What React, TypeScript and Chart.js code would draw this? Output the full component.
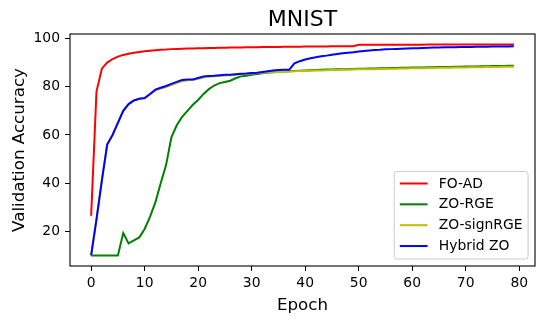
import React, { useEffect, useRef } from "react";
import { Chart, registerables } from "chart.js";

Chart.register(...registerables);

const EPOCHS = [
  0, 1, 2, 3, 4, 5, 6, 7, 8, 9, 10, 11, 12, 13, 14, 15, 16, 17, 18, 19,
  20, 21, 22, 23, 24, 25, 26, 27, 28, 29, 30, 31, 32, 33, 34, 35, 36, 37, 38, 39,
  40, 41, 42, 43, 44, 45, 46, 47, 48, 49, 50, 51, 52, 53, 54, 55, 56, 57, 58, 59,
  60, 61, 62, 63, 64, 65, 66, 67, 68, 69, 70, 71, 72, 73, 74, 75, 76, 77, 78, 79,
];

const FO_AD = [
  26.5, 78, 87.5, 90, 91.5, 92.5, 93.2, 93.7, 94.1, 94.4,
  94.7, 94.9, 95.1, 95.3, 95.4, 95.6, 95.7, 95.8, 95.9, 95.9,
  96.0, 96.0, 96.1, 96.1, 96.2, 96.2, 96.3, 96.3, 96.3, 96.4,
  96.4, 96.4, 96.5, 96.5, 96.5, 96.5, 96.6, 96.6, 96.6, 96.6,
  96.7, 96.7, 96.7, 96.7, 96.7, 96.8, 96.8, 96.8, 96.8, 96.8,
  97.4, 97.4, 97.4, 97.4, 97.4, 97.4, 97.4, 97.4, 97.4, 97.4,
  97.4, 97.4, 97.4, 97.5, 97.5, 97.5, 97.5, 97.5, 97.5, 97.5,
  97.5, 97.5, 97.5, 97.5, 97.5, 97.5, 97.5, 97.5, 97.5, 97.5,
];

const ZO_RGE = [
  10, 10, 10, 10, 10, 10, 19.3, 15, 16.3, 17.5,
  21, 26, 32, 40, 47.5, 59, 64, 67.5, 70, 72.5,
  74.5, 77, 79, 80.5, 81.5, 82, 82.5, 83.5, 84.3, 84.6,
  85, 85.3, 85.6, 85.8, 86, 86.2, 86.3, 86.4, 86.5, 86.6,
  86.7, 86.8, 86.9, 87, 87.1, 87.1, 87.2, 87.3, 87.3, 87.4,
  87.5, 87.5, 87.6, 87.6, 87.7, 87.7, 87.8, 87.8, 87.9, 87.9,
  88, 88, 88, 88.1, 88.1, 88.2, 88.2, 88.2, 88.3, 88.3,
  88.4, 88.4, 88.4, 88.5, 88.5, 88.6, 88.6, 88.6, 88.7, 88.7,
];

const ZO_SIGNRGE = [
  10, 25, 41, 56, 60, 65, 70, 72.8, 74.3, 75,
  75.2, 76.8, 78.5, 79.2, 79.9, 80.7, 81.5, 82.3, 82.7, 82.8,
  83.3, 83.8, 84.1, 84.3, 84.5, 84.7, 84.8, 85, 85.2, 85.4,
  85.5, 85.7, 85.8, 85.9, 86, 86.1, 86.2, 86.3, 86.4, 86.5,
  86.5, 86.6, 86.7, 86.7, 86.8, 86.9, 86.9, 87, 87, 87.1,
  87.2, 87.2, 87.3, 87.3, 87.4, 87.4, 87.5, 87.5, 87.6, 87.6,
  87.7, 87.7, 87.7, 87.8, 87.8, 87.9, 87.9, 87.9, 88, 88,
  88, 88.1, 88.1, 88.1, 88.2, 88.2, 88.2, 88.3, 88.3, 88.3,
];

const HYBRID_ZO = [
  10, 25, 41, 56, 60, 65, 70, 72.8, 74.3, 75,
  75.3, 77, 78.8, 79.6, 80.3, 81.2, 82, 82.8, 83, 83,
  83.6, 84.2, 84.5, 84.6, 84.8, 85, 85, 85.2, 85.4, 85.5,
  85.7, 85.8, 86.1, 86.4, 86.7, 86.9, 87, 87, 89.7, 90.6,
  91.3, 91.8, 92.2, 92.6, 92.9, 93.3, 93.6, 93.9, 94.1, 94.3,
  94.6, 94.8, 95, 95.2, 95.3, 95.5, 95.6, 95.7, 95.8, 95.9,
  96, 96, 96.1, 96.2, 96.3, 96.3, 96.4, 96.4, 96.4, 96.5,
  96.5, 96.5, 96.6, 96.6, 96.6, 96.7, 96.7, 96.7, 96.7, 96.8,
];

const SERIES_LABELS = ["FO-AD", "ZO-RGE", "ZO-signRGE", "Hybrid ZO"];
const SERIES_COLORS = ["#ff0000", "#008000", "#bfbf00", "#0000ff"];
const X_TICKS = [0, 10, 20, 30, 40, 50, 60, 70, 80];
const Y_TICKS = [20, 40, 60, 80, 100];
const TITLE = "MNIST";
const X_LABEL = "Epoch";
const Y_LABEL = "Validation Accuracy";

const FONT = "'DejaVu Sans', sans-serif";

const decorPlugin = {
  id: "decor",
  afterDatasetsDraw(chart: any) {
    const { ctx, chartArea } = chart;
    const { left, right, top, bottom } = chartArea;
    ctx.save();
    // frame
    ctx.strokeStyle = "#000000";
    ctx.lineWidth = 1.1;
    ctx.strokeRect(left, top, right - left, bottom - top);
    // title
    ctx.fillStyle = "#000000";
    ctx.textAlign = "center";
    ctx.textBaseline = "alphabetic";
    ctx.font = `22px ${FONT}`;
    ctx.fillText(TITLE, (left + right) / 2, top - 8);
    // x label
    ctx.font = `16.7px ${FONT}`;
    ctx.fillText(X_LABEL, (left + right) / 2, 310);
    // y label
    ctx.save();
    ctx.translate(20, (top + bottom) / 2);
    ctx.rotate(-Math.PI / 2);
    ctx.textBaseline = "middle";
    ctx.fillText(Y_LABEL, 0, 0);
    ctx.restore();

    // legend
    const fs = 13.9;
    ctx.font = `${fs}px ${FONT}`;
    const labels = chart.data.datasets.map((d: any) => d.label);
    const maxW = Math.max(...labels.map((l: string) => ctx.measureText(l).width));
    const bp = 0.4 * fs;
    const hl = 2 * fs;
    const htp = 0.8 * fs;
    const ls = 0.5 * fs;
    const rowH = fs;
    const w = 2 * bp + hl + htp + maxW;
    const h = 2 * bp + labels.length * rowH + (labels.length - 1) * ls;
    const x1 = right - 0.5 * fs;
    const y1 = bottom - 0.5 * fs;
    const x0 = x1 - w;
    const y0 = y1 - h;
    const r = 0.2 * fs;
    ctx.beginPath();
    ctx.moveTo(x0 + r, y0);
    ctx.lineTo(x1 - r, y0);
    ctx.arcTo(x1, y0, x1, y0 + r, r);
    ctx.lineTo(x1, y1 - r);
    ctx.arcTo(x1, y1, x1 - r, y1, r);
    ctx.lineTo(x0 + r, y1);
    ctx.arcTo(x0, y1, x0, y1 - r, r);
    ctx.lineTo(x0, y0 + r);
    ctx.arcTo(x0, y0, x0 + r, y0, r);
    ctx.closePath();
    ctx.fillStyle = "rgba(255,255,255,0.8)";
    ctx.fill();
    ctx.strokeStyle = "#cccccc";
    ctx.lineWidth = 1;
    ctx.stroke();
    chart.data.datasets.forEach((d: any, i: number) => {
      const cy = y0 + bp + rowH / 2 + i * (rowH + ls) - 0.5;
      ctx.strokeStyle = d.borderColor;
      ctx.lineWidth = 2;
      ctx.beginPath();
      ctx.moveTo(x0 + bp, cy);
      ctx.lineTo(x0 + bp + hl, cy);
      ctx.stroke();
      ctx.fillStyle = "#000000";
      ctx.textAlign = "left";
      ctx.textBaseline = "middle";
      ctx.fillText(d.label, x0 + bp + hl + htp, cy + 0.5);
    });
    ctx.restore();
  },
};

export default function App() {
  const ref = useRef<HTMLCanvasElement>(null);
  useEffect(() => {
    if (!ref.current) return;
    const seriesValues = [FO_AD, ZO_RGE, ZO_SIGNRGE, HYBRID_ZO];
    const chart = new Chart(ref.current, {
      type: "line",
      data: {
        datasets: seriesValues.map((vals, i) => ({
          label: SERIES_LABELS[i],
          data: vals.map((v, j) => ({ x: EPOCHS[j], y: v })),
          borderColor: SERIES_COLORS[i],
          backgroundColor: SERIES_COLORS[i],
          borderWidth: 2,
          pointRadius: 0,
          tension: 0,
          fill: false,
          order: seriesValues.length - i,
        })),
      },
      options: {
        animation: false,
        responsive: false,
        devicePixelRatio: 1,
        layout: { padding: { left: 0, right: 9, top: 34, bottom: 0 } },
        plugins: {
          legend: { display: false },
          title: { display: false },
          tooltip: { enabled: false },
        },
        scales: {
          x: {
            type: "linear",
            min: -3.95,
            max: 82.95,
            afterBuildTicks: (s: any) => {
              s.ticks = X_TICKS.map((v) => ({ value: v }));
            },
            afterFit: (s: any) => {
              s.height = 56;
            },
            grid: {
              display: true,
              drawOnChartArea: false,
              drawTicks: true,
              tickLength: 5,
              color: "#000000",
              lineWidth: 1,
            },
            border: { display: false },
            ticks: {
              color: "#000000",
              font: { family: FONT, size: 13.9 },
              padding: 4,
              maxRotation: 0,
              autoSkip: false,
            },
          },
          y: {
            type: "linear",
            min: 5.625,
            max: 101.875,
            afterBuildTicks: (s: any) => {
              s.ticks = Y_TICKS.map((v) => ({ value: v }));
            },
            afterFit: (s: any) => {
              s.width = 70;
            },
            grid: {
              display: true,
              drawOnChartArea: false,
              drawTicks: true,
              tickLength: 5,
              color: "#000000",
              lineWidth: 1,
            },
            border: { display: false },
            ticks: {
              color: "#000000",
              font: { family: FONT, size: 13.9 },
              padding: 5,
              autoSkip: false,
            },
          },
        },
      },
      plugins: [decorPlugin],
    });
    return () => chart.destroy();
  }, []);
  return (
    <div style={{ position: "absolute", left: 0, top: 0, width: 544, height: 322, background: "#ffffff" }}>
      <canvas ref={ref} width={544} height={322} />
    </div>
  );
}
